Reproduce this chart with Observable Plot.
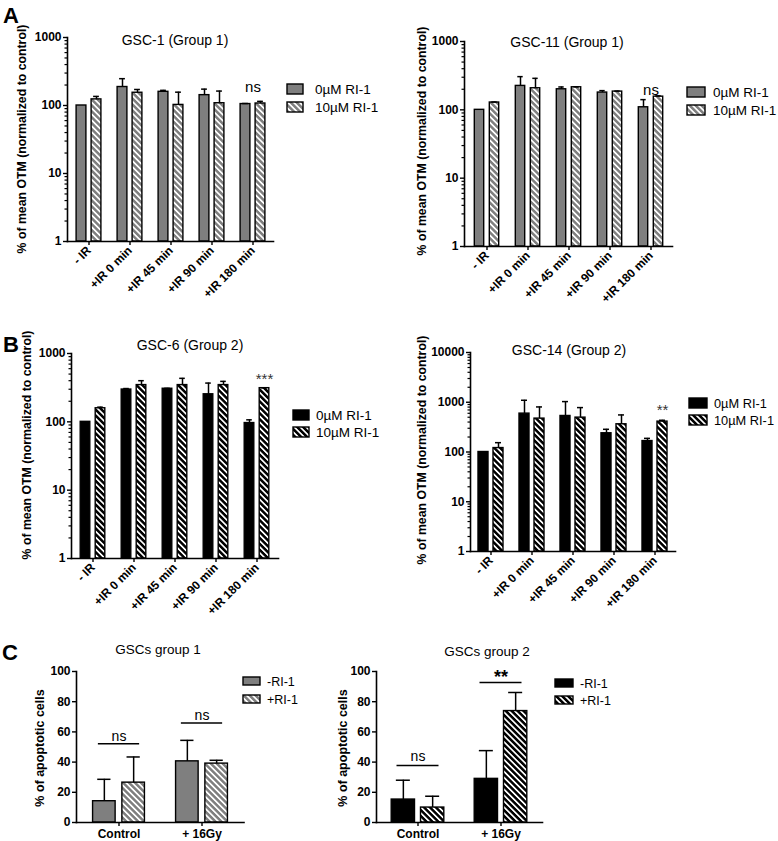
<!DOCTYPE html>
<html>
<head>
<meta charset="utf-8">
<script src="https://cdn.jsdelivr.net/npm/d3@7"></script>
<script src="https://cdn.jsdelivr.net/npm/@observablehq/plot@0.6"></script>
<style>
  body { margin: 0; background: #fff; }
  #fig { position: relative; width: 778px; height: 841px; overflow: hidden; background: #fff;
         font-family: 'Liberation Sans', Arial, sans-serif; color: #000; }
  #fig svg { position: absolute; max-width: none; overflow: visible; }
  .lbl { position: absolute; white-space: nowrap; line-height: 1; transform: translate(-50%, -50%); }
  .ylab { position: absolute; white-space: nowrap; line-height: 1; font-weight: bold;
          transform: translate(-50%, -50%) rotate(-90deg); }
  .letter { position: absolute; font-weight: bold; font-size: 22px; line-height: 1; }
</style>
</head>
<body>
<div id="fig"></div>
<script>
// ---------------- data ----------------
const otmCategories = ["- IR", "+IR 0 min", "+IR 45 min", "+IR 90 min", "+IR 180 min"];
const otmSeries = ["0µM RI-1", "10µM RI-1"];
const otmTicks = [1, 10, 100, 1000];
const otmTicksWide = [1, 10, 100, 1000, 10000];

// GSC-1 (Group 1)
const gsc1Ctrl    = [100, 187, 159, 142, 105];
const gsc1CtrlErr = [0, 61, 8, 32, 2];
const gsc1RI      = [123, 154, 102, 108, 107];
const gsc1RIErr   = [13, 18, 55, 55, 8];

// GSC-11 (Group 1)
const gsc11Ctrl    = [100, 224, 200, 179, 109];
const gsc11CtrlErr = [0, 82, 16, 12, 32];
const gsc11RI      = [128, 207, 214, 185, 156];
const gsc11RIErr   = [2, 82, 3, 3, 4];

// GSC-6 (Group 2)
const gsc6Ctrl    = [100, 297, 305, 253, 96];
const gsc6CtrlErr = [0, 10, 4, 116, 11];
const gsc6RI      = [158, 345, 345, 345, 311];
const gsc6RIErr   = [6, 55, 88, 46, 3];

// GSC-14 (Group 2)
const gsc14Ctrl    = [100, 591, 530, 238, 166];
const gsc14CtrlErr = [0, 505, 501, 48, 22];
const gsc14RI      = [120, 469, 491, 361, 408];
const gsc14RIErr   = [34, 336, 290, 195, 26];

// Apoptosis
const apoCategories = ["Control", "+ 16Gy"];
const apoSeries = ["-RI-1", "+RI-1"];
const apoTicks = [0, 20, 40, 60, 80, 100];
const apoG1Minus    = [14.1, 40.5];
const apoG1MinusErr = [14.5, 13.9];
const apoG1Plus     = [26.4, 39.0];
const apoG1PlusErr  = [17.0, 2.2];
const apoG2Minus    = [15.2, 28.9];
const apoG2MinusErr = [12.8, 18.7];
const apoG2Plus     = [9.9, 73.8];
const apoG2PlusErr  = [7.5, 12.3];

// significance annotations (category, y value, text, which bar: 0 = group centre, 1 = hatched bar)
const sigA1 = [{cat: "+IR 180 min", y: 184, text: "ns", at: 0}];
const sigA2 = [{cat: "+IR 180 min", y: 191, text: "ns", at: 0}];
const sigB1 = [{cat: "+IR 180 min", y: 420, text: "***", at: 1}];
const sigB2 = [{cat: "+IR 180 min", y: 680, text: "**", at: 1}];
const sigC1Lines = [{cat: "Control", y: 52.2}, {cat: "+ 16Gy", y: 65.9}];
const sigC1Text  = [{cat: "Control", y: 57, text: "ns"}, {cat: "+ 16Gy", y: 70.9, text: "ns"}];
const sigC2Lines = [{cat: "Control", y: 37.7}, {cat: "+ 16Gy", y: 92.7}];
const sigC2Text  = [{cat: "Control", y: 43.4, text: "ns"}, {cat: "+ 16Gy", y: 96.5, text: "**"}];

// ---------------- helpers ----------------
const fig = document.getElementById("fig");
const FONT = "'Liberation Sans', Arial, sans-serif";

function addLabel(text, cx, cy, size, weight) {
  const d = document.createElement("div");
  d.className = "lbl";
  d.textContent = text;
  d.style.left = cx + "px"; d.style.top = cy + "px";
  d.style.fontSize = size + "px"; d.style.fontWeight = weight || "normal";
  fig.appendChild(d);
}
function addYLabel(text, cx, cy, size) {
  const d = document.createElement("div");
  d.className = "ylab";
  d.textContent = text;
  d.style.left = cx + "px"; d.style.top = cy + "px";
  d.style.fontSize = size + "px";
  fig.appendChild(d);
}
function addLetter(text, x, y) {
  const d = document.createElement("div");
  d.className = "letter";
  d.textContent = text;
  d.style.left = x + "px"; d.style.top = y + "px";
  fig.appendChild(d);
}

function minorLogTicks(maxExp) {
  const t = [];
  for (let e = 0; e < maxExp; e++) for (let m = 2; m <= 9; m++) t.push(m * Math.pow(10, e));
  return t;
}

function buildPanel(o) {
  const n = o.cats.length;
  const bw = (o.width - o.ml - o.mr) / n;
  const off = o.gap / 2 + o.barW / 2;
  const hatchId = o.id + "-hatch";
  const rows = [];
  o.series.forEach((s, si) => o.cats.forEach((c, ci) =>
    rows.push({cat: c, series: s, si, value: o.vals[si][ci], upper: o.vals[si][ci] + o.errs[si][ci]})));

  const marks = [];
  [0, 1].forEach(si => {
    const sgn = si === 0 ? -1 : 1;
    const d = rows.filter(r => r.si === si);
    marks.push(Plot.barY(d, {
      x: "cat", y1: o.base, y2: "value",
      fill: si === 0 ? o.color : `url(#${hatchId})`,
      stroke: "black", strokeWidth: 1.4,
      insetLeft: bw / 2 + sgn * off - o.barW / 2,
      insetRight: bw / 2 - sgn * off - o.barW / 2
    }));
    const de = d.filter(r => r.upper > r.value);
    marks.push(Plot.ruleX(de, {x: "cat", y1: "value", y2: "upper", dx: sgn * off, stroke: "black", strokeWidth: 1.5}));
    marks.push(Plot.tickY(de, {x: "cat", y: "upper", stroke: "black", strokeWidth: 1.5,
      insetLeft: bw / 2 + sgn * off - o.cap, insetRight: bw / 2 - sgn * off - o.cap}));
  });

  if (o.minor) marks.push(Plot.axisY({ticks: o.minor, tickSize: 2.5, tickFormat: () => "", label: null, strokeWidth: 1.2}));
  marks.push(Plot.axisY({ticks: o.yTicks, tickFormat: d => String(d), tickSize: 4, tickPadding: 2, label: null, strokeWidth: 1.4}));
  if (o.rotate) {
    marks.push(Plot.axisX({tickRotate: -45, tickSize: 4, tickPadding: 3, label: null, strokeWidth: 1.4}));
  } else {
    marks.push(Plot.axisX({tickSize: 4, tickPadding: 3, label: null, strokeWidth: 1.4}));
  }
  marks.push(Plot.frame({anchor: "left", strokeWidth: 1.6}));
  marks.push(Plot.frame({anchor: "bottom", strokeWidth: 1.6}));

  if (o.sigLines) {
    marks.push(Plot.tickY(o.sigLines, {x: "cat", y: "y", stroke: "black", strokeWidth: 1.5,
      insetLeft: bw / 2 - 21, insetRight: bw / 2 - 21}));
  }
  if (o.sigText) {
    o.sigText.forEach(s => {
      const star = s.text.includes("*");
      marks.push(Plot.text([s], {x: "cat", y: "y", text: "text",
        dx: s.at ? off : 0,
        fontSize: star ? o.starSize : o.nsSize,
        fontWeight: star && o.starBold ? "bold" : "normal",
        fill: star && !o.starBold ? "#333" : "black",
        lineAnchor: "middle"}));
    });
  }

  const svg = Plot.plot({
    width: o.width, height: o.height,
    marginLeft: o.ml, marginRight: o.mr, marginTop: o.mt, marginBottom: o.mb,
    style: {fontFamily: FONT, fontSize: "12px", fontWeight: "bold", color: "black", background: "transparent", overflow: "visible"},
    x: {type: "band", domain: o.cats, padding: 0},
    y: {type: o.log ? "log" : "linear", domain: o.yDomain},
    marks
  });

  // hatch pattern
  const s = d3.select(svg);
  const defs = s.insert("defs", ":first-child");
  const p = defs.append("pattern").attr("id", hatchId).attr("patternUnits", "userSpaceOnUse")
    .attr("width", o.hatchPeriod).attr("height", o.hatchPeriod).attr("patternTransform", "rotate(-45)");
  p.append("rect").attr("width", o.hatchPeriod).attr("height", o.hatchPeriod).attr("fill", o.color);
  p.append("rect").attr("x", 0).attr("width", o.hatchWhite).attr("height", o.hatchPeriod).attr("fill", "white");

  // legend
  const lg = s.append("g").attr("text-anchor", "start");
  o.series.forEach((name, si) => {
    const cy = o.legend.y[si];
    lg.append("rect").attr("x", o.legend.x).attr("y", cy - o.legend.h / 2)
      .attr("width", o.legend.w).attr("height", o.legend.h)
      .attr("fill", si === 0 ? o.color : `url(#${hatchId})`).attr("stroke", "black").attr("stroke-width", 1.4);
    lg.append("text").attr("x", o.legend.tx).attr("y", cy).attr("dy", "0.36em")
      .attr("text-anchor", "start")
      .attr("font-size", o.legend.size).attr("font-weight", "normal").attr("fill", "black").text(name);
  });

  svg.style.left = o.left + "px";
  svg.style.top = o.top + "px";
  fig.appendChild(svg);
}

// ---------------- panels ----------------
const logCommon = {cats: otmCategories, series: otmSeries, log: true, base: 1, barW: 10, gap: 5, cap: 3,
  rotate: true, hatchPeriod: 4.2, hatchWhite: 1.7, nsSize: 15, starSize: 15, starBold: false};

buildPanel({...logCommon, id: "a1", left: 0, top: 0, width: 390, height: 330,
  ml: 67, mr: 117, mt: 37, mb: 89, color: "#7f7f7f",
  vals: [gsc1Ctrl, gsc1RI], errs: [gsc1CtrlErr, gsc1RIErr],
  yDomain: [1, 1000], yTicks: otmTicks, minor: minorLogTicks(3), sigText: sigA1,
  legend: {x: 287, w: 16, h: 10, y: [89, 107], tx: 315, size: 13.5}});

buildPanel({...logCommon, id: "a2", left: 390, top: 0, width: 388, height: 330,
  ml: 74, mr: 106, mt: 41, mb: 84, color: "#7f7f7f",
  vals: [gsc11Ctrl, gsc11RI], errs: [gsc11CtrlErr, gsc11RIErr],
  yDomain: [1, 1000], yTicks: otmTicks, minor: minorLogTicks(3), sigText: sigA2,
  legend: {x: 297, w: 18, h: 10, y: [92, 110], tx: 323, size: 13.5}});

buildPanel({...logCommon, id: "b1", left: 0, top: 330, width: 390, height: 310,
  ml: 71, mr: 112, mt: 23, mb: 82, color: "#000000",
  vals: [gsc6Ctrl, gsc6RI], errs: [gsc6CtrlErr, gsc6RIErr],
  yDomain: [1, 1000], yTicks: otmTicks, minor: minorLogTicks(3), sigText: sigB1,
  legend: {x: 293, w: 16, h: 10, y: [85, 102], tx: 316, size: 13.5}});

buildPanel({...logCommon, id: "b2", left: 390, top: 330, width: 388, height: 310,
  ml: 80, mr: 103, mt: 22, mb: 89, color: "#000000",
  vals: [gsc14Ctrl, gsc14RI], errs: [gsc14CtrlErr, gsc14RIErr],
  yDomain: [1, 10000], yTicks: otmTicksWide, minor: minorLogTicks(4), sigText: sigB2,
  legend: {x: 299, w: 18, h: 10, y: [73, 90], tx: 324, size: 12.8}});

const apoCommon = {cats: apoCategories, series: apoSeries, log: false, base: 0, barW: 23.3, gap: 6, cap: 7,
  rotate: false, hatchPeriod: 4.2, hatchWhite: 1.7, yDomain: [0, 100], yTicks: apoTicks,
  nsSize: 14, starSize: 18, starBold: true};

buildPanel({...apoCommon, id: "c1", left: 0, top: 640, width: 340, height: 201,
  ml: 76, mr: 96.5, mt: 31, mb: 19, color: "#7f7f7f",
  vals: [apoG1Minus, apoG1Plus], errs: [apoG1MinusErr, apoG1PlusErr],
  sigLines: sigC1Lines, sigText: sigC1Text,
  legend: {x: 243, w: 17, h: 8, y: [41, 59], tx: 267, size: 12.5}});

buildPanel({...apoCommon, id: "c2", left: 300, top: 640, width: 478, height: 201,
  ml: 76, mr: 236, mt: 31, mb: 19, color: "#000000",
  vals: [apoG2Minus, apoG2Plus], errs: [apoG2MinusErr, apoG2PlusErr],
  sigLines: sigC2Lines, sigText: sigC2Text,
  legend: {x: 255, w: 18, h: 8, y: [43, 60], tx: 280, size: 12.5}});

// ---------------- titles, axis titles, panel letters ----------------
addLetter("A", 3, 5);
addLetter("B", 3, 334);
addLetter("C", 2, 642);

addLabel("GSC-1 (Group 1)", 175, 40, 14);
addLabel("GSC-11 (Group 1)", 567, 42, 14);
addLabel("GSC-6 (Group 2)", 190, 345, 14);
addLabel("GSC-14 (Group 2)", 569, 350, 14);
addLabel("GSCs group 1", 158, 650, 13.5);
addLabel("GSCs group 2", 487, 652, 13.5);

const otmYLabel = "% of mean OTM (normalized to control)";
addYLabel(otmYLabel, 22, 139, 12.3);
addYLabel(otmYLabel, 422, 141, 12.3);
addYLabel(otmYLabel, 27, 445, 12.3);
addYLabel(otmYLabel, 422, 450, 12.3);
addYLabel("% of apoptotic cells", 40, 748, 12.5);
addYLabel("% of apoptotic cells", 343, 748, 12.5);
</script>
</body>
</html>
